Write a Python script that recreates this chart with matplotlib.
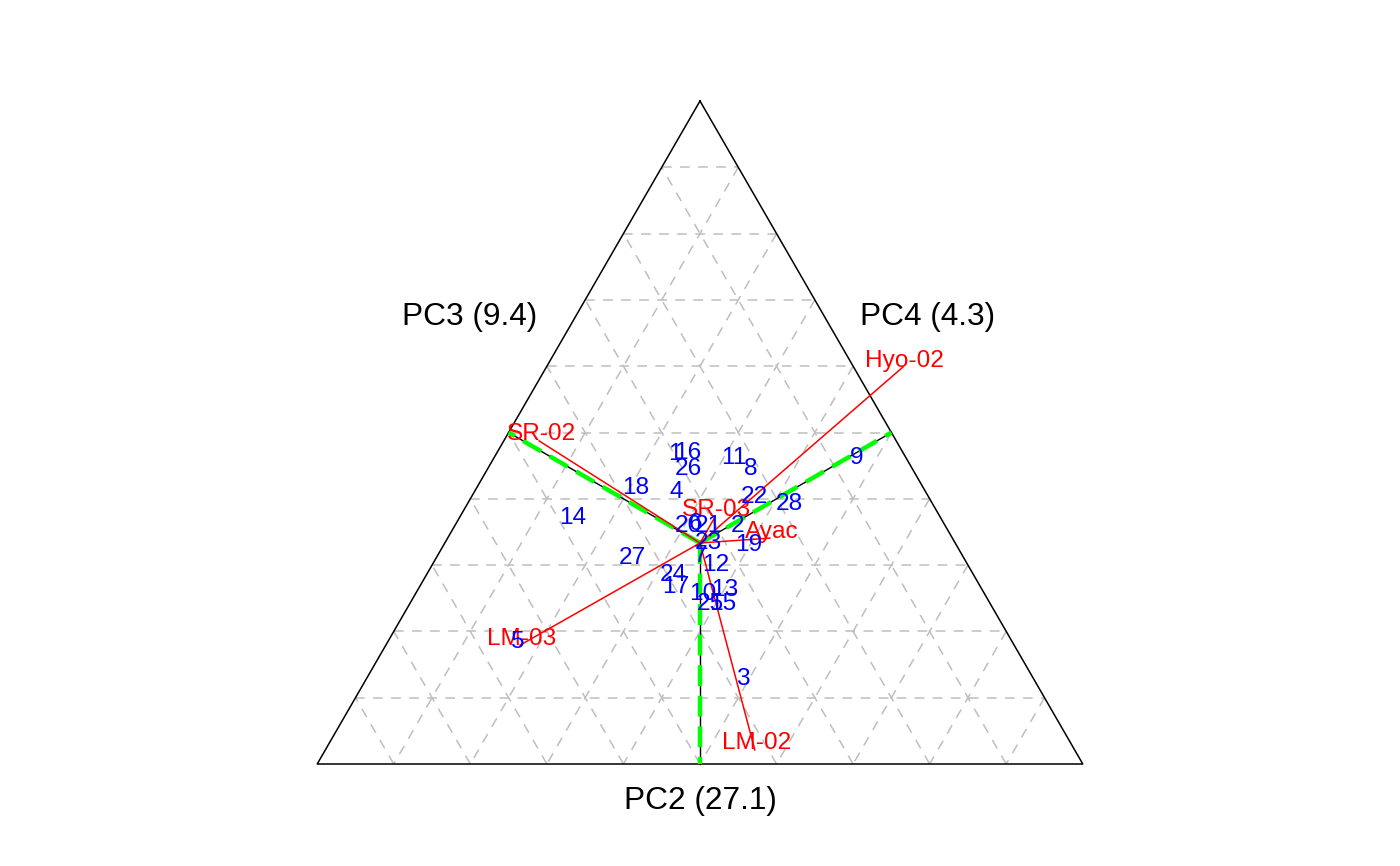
import numpy as np
import matplotlib
matplotlib.use("Agg")
import matplotlib.pyplot as plt

plt.rcParams['font.family'] = ['Liberation Sans', 'DejaVu Sans']
plt.rcParams['lines.scale_dashes'] = False

# axis labels (inertia in %)
axis_labels = ["PC2 (27.1)", "PC3 (9.4)", "PC4 (4.3)"]

# row scores (centred triangle coordinates, unit = centroid-to-vertex distance)
row_names = [str(i) for i in range(1, 29)]
row_x = [-0.057, 0.084, 0.097, -0.054, -0.414, -0.011, 0.002, 0.115, 0.355, 0.007,
         0.077, 0.036, 0.057, -0.287, 0.052, -0.027, -0.054, -0.145, 0.111, -0.027,
         0.020, 0.124, 0.020, -0.061, 0.023, -0.027, -0.154, 0.201]
row_y = [0.208, 0.045, -0.301, 0.120, -0.219, 0.048, -0.023, 0.172, 0.199, -0.109,
         0.199, -0.045, -0.100, 0.063, -0.133, 0.210, -0.095, 0.129, 0.002, 0.043,
         0.043, 0.109, 0.005, -0.066, -0.133, 0.174, -0.029, 0.093]

# column loadings
col_names = ["Hyo-02", "SR-02", "SR-03", "Ayac", "LM-03", "LM-02"]
col_x = [0.459, -0.364, 0.034, 0.158, -0.407, 0.124]
col_y = [0.398, 0.231, 0.059, 0.011, -0.231, -0.468]

# triangle vertices: top, bottom-left, bottom-right
A = np.array([0.0, 1.0])
B = np.array([-np.sqrt(3) / 2, -0.5])
C = np.array([np.sqrt(3) / 2, -0.5])

fig = plt.figure(figsize=(14, 8.66), dpi=100)
ax = fig.add_axes([0, 0, 1, 1])
ax.set_xlim(-700 / 442, 700 / 442)
ax.set_ylim(-323 / 442, 543 / 442)
ax.set_aspect('equal')
ax.axis('off')

# dashed grid at tenths
grid_kw = dict(color='#bebebe', lw=1.1, dashes=(7, 6), zorder=1)
for k in range(1, 10):
    t = k / 10
    for P, Q, R in [(A, B, C), (B, C, A), (C, A, B)]:
        p1 = t * P + (1 - t) * Q
        p2 = t * P + (1 - t) * R
        ax.plot([p1[0], p2[0]], [p1[1], p2[1]], **grid_kw)

# outline
tri = np.array([A, B, C, A])
ax.plot(tri[:, 0], tri[:, 1], color='black', lw=1.1, zorder=2)

# axes from centroid to edge midpoints
mids = [(B + C) / 2, (A + B) / 2, (A + C) / 2]
for m in mids:
    ax.plot([0, m[0]], [0, m[1]], color='black', lw=1.0, zorder=3)
    ax.plot([0, m[0]], [0, m[1]], color='#00ff00', lw=3.2, dashes=(15, 7), zorder=4)

# axis titles
title_kw = dict(fontsize=22.8, ha='center', va='center_baseline')
ax.text(0, -0.5 - 34 / 442, axis_labels[0], **title_kw)
ax.text(-230 / 442, 230 / 442, axis_labels[1], **title_kw)
ax.text(228 / 442, 230 / 442, axis_labels[2], **title_kw)

# loadings
for name, x, y in zip(col_names, col_x, col_y):
    ax.plot([0, x], [0, y], color='red', lw=1.1, zorder=5)
    ax.annotate(name, (x, y), xytext=(1.4, 6.5), textcoords='offset points',
                color='red', fontsize=17.6, ha='center', va='center_baseline', zorder=6)

# row labels
for name, x, y in zip(row_names, row_x, row_y):
    ax.text(x, y, name, color='blue', fontsize=17.6, ha='center',
            va='center_baseline', zorder=7)

fig.savefig("out.png", dpi=100)
